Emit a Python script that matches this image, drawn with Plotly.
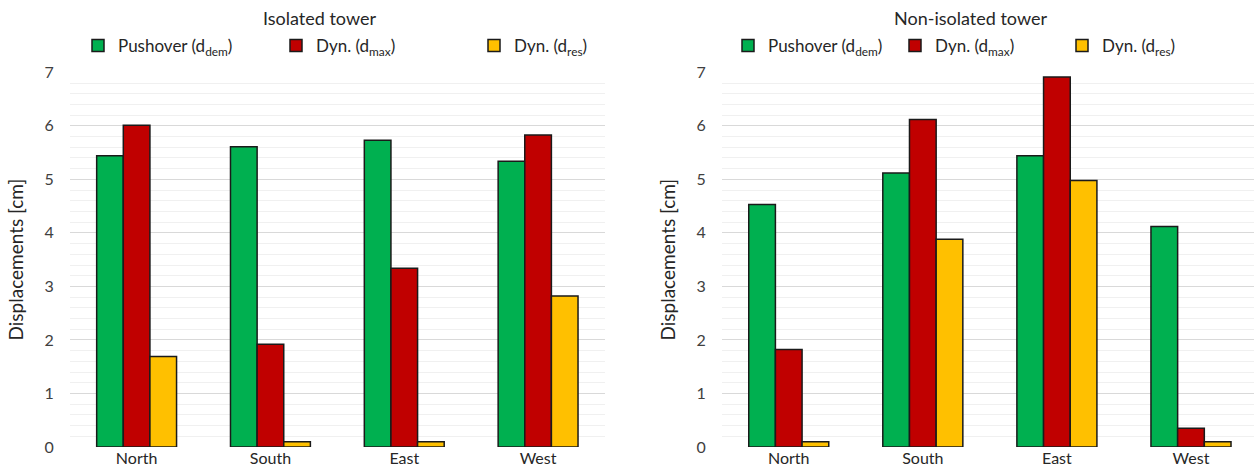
import plotly.graph_objects as go

W, H = 1254, 470

categories = ["North", "South", "East", "West"]
series_names = ["Pushover (d<sub>dem</sub>)", "Dyn. (d<sub>max</sub>)", "Dyn. (d<sub>res</sub>)"]
colors = ["#00B050", "#C00000", "#FFC000"]

isolated_pushover = [5.44, 5.61, 5.73, 5.34]
isolated_dyn_max = [6.01, 1.92, 3.34, 5.83]
isolated_dyn_res = [1.69, 0.10, 0.10, 2.82]

nonisolated_pushover = [4.53, 5.12, 5.44, 4.12]
nonisolated_dyn_max = [1.82, 6.12, 6.91, 0.35]
nonisolated_dyn_res = [0.10, 3.88, 4.98, 0.10]

y_ticks = [0, 1, 2, 3, 4, 5, 6, 7]
titles = ["Isolated tower", "Non-isolated tower"]
y_title = "Displacements [cm]"

FONT = "Lato"

fig = go.Figure()

left_sets = [isolated_pushover, isolated_dyn_max, isolated_dyn_res]
right_sets = [nonisolated_pushover, nonisolated_dyn_max, nonisolated_dyn_res]

for name, col, vals in zip(series_names, colors, left_sets):
    fig.add_trace(go.Bar(x=categories, y=vals, name=name, xaxis="x", yaxis="y",
                         marker=dict(color=col, line=dict(color="#1a1a1a", width=1.5)),
                         legend="legend"))
for name, col, vals in zip(series_names, colors, right_sets):
    fig.add_trace(go.Bar(x=categories, y=vals, name=name, xaxis="x2", yaxis="y2",
                         marker=dict(color=col, line=dict(color="#1a1a1a", width=1.5)),
                         legend="legend2"))

y_bot = (H - 447) / H
y_top = (H - 72.3) / H
xl = [69.7 / W, 605 / W]
xr = [721.7 / W, 1.0]

yaxis_common = dict(
    range=[0, 7], tickvals=y_ticks, showgrid=True, gridcolor="#d9d9d9", gridwidth=1.3,
    zeroline=False, showline=False, ticks="", ticklabelstandoff=15,
    tickfont=dict(family=FONT, size=16, color="#404040"),
    minor=dict(dtick=0.2, showgrid=True, gridcolor="#f0f0f0", gridwidth=1),
    domain=[y_bot, y_top], fixedrange=True,
    title=dict(text=y_title, font=dict(family=FONT, size=19, color="#262626"), standoff=15),
)
xaxis_common = dict(
    showgrid=False, zeroline=False, showline=False, ticks="",
    tickfont=dict(family=FONT, size=16, color="#262626"), fixedrange=True,
)

fig.update_layout(
    width=W, height=H,
    margin=dict(l=0, r=0, t=0, b=0, autoexpand=False),
    paper_bgcolor="white", plot_bgcolor="white",
    barmode="group", bargap=0.403, bargroupgap=0,
    xaxis=dict(domain=xl, anchor="y", range=[-0.5, 3.5], **xaxis_common),
    xaxis2=dict(domain=xr, anchor="y2", range=[-0.5, 3.47], **xaxis_common),
    yaxis=dict(anchor="x", **yaxis_common),
    yaxis2=dict(anchor="x2", **yaxis_common),
    legend=dict(orientation="h", x=78 / W, y=(H - 46) / H, xanchor="left", yanchor="middle",
                entrywidth=153, entrywidthmode="pixels",
                font=dict(family=FONT, size=17, color="#262626"), bgcolor="rgba(0,0,0,0)"),
    legend2=dict(orientation="h", x=728 / W, y=(H - 46) / H, xanchor="left", yanchor="middle",
                 entrywidth=122, entrywidthmode="pixels",
                 font=dict(family=FONT, size=17, color="#262626"), bgcolor="rgba(0,0,0,0)"),
    annotations=[
        dict(text=titles[0], x=319 / W, y=(H - 18) / H, xref="paper", yref="paper",
             xanchor="center", yanchor="middle",
             showarrow=False, font=dict(family=FONT, size=18, color="#262626")),
        dict(text=titles[1], x=970 / W, y=(H - 18) / H, xref="paper", yref="paper",
             xanchor="center", yanchor="middle",
             showarrow=False, font=dict(family=FONT, size=18, color="#262626")),
    ],
    showlegend=True,
)

fig.write_html("out.html", config={"displayModeBar": False},
               post_script="document.body.style.margin='0';document.body.style.overflow='hidden';")
